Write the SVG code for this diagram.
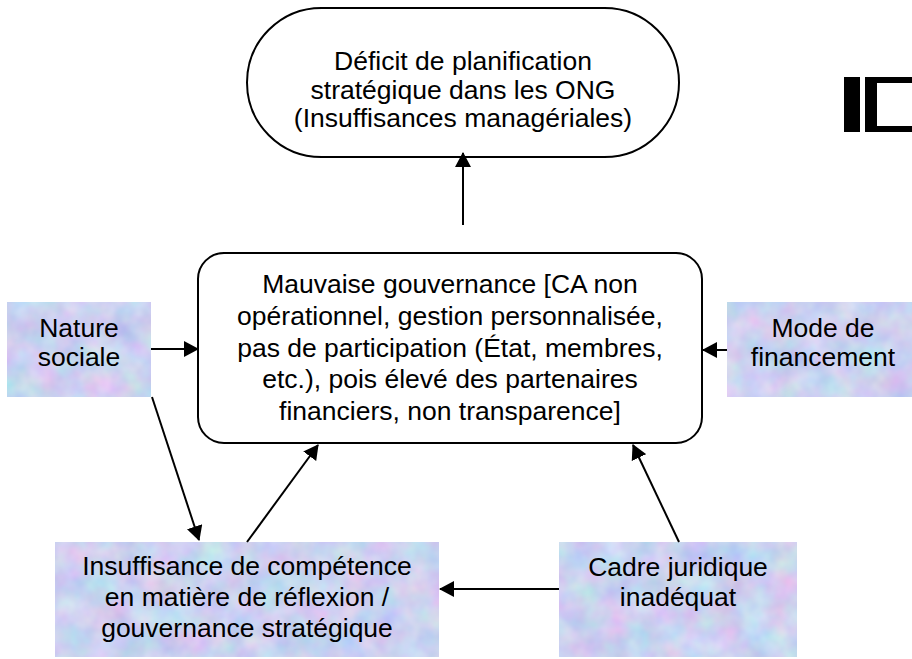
<svg xmlns="http://www.w3.org/2000/svg" width="912" height="659" viewBox="0 0 912 659">
<style>
  .t { font-family: "Liberation Sans", Arial, sans-serif; font-size: 26.5px; fill: #000; text-anchor: middle; }
  .shape { fill: #fff; stroke: #000; stroke-width: 2; }
  .tex { fill: #c8d2f2; filter: url(#texture); }
  .conn { stroke: #000; stroke-width: 2; fill: none; marker-end: url(#arrow); }
</style>
<defs>
  <filter id="texture" x="0" y="0" width="100%" height="100%" color-interpolation-filters="sRGB">
    <feTurbulence type="fractalNoise" baseFrequency="0.035" numOctaves="3" seed="7" result="n"/>
    <feColorMatrix in="n" type="matrix" values="0.28 0 0 0 0.655  0 0.24 0 0 0.70  0 0 0.1 0 0.89  0 0 0 0 1" result="c"/>
    <feComposite in="c" in2="SourceGraphic" operator="in"/>
  </filter>
  <marker id="arrow" viewBox="0 0 15 16" markerWidth="15" markerHeight="16" refX="14" refY="8" orient="auto" markerUnits="userSpaceOnUse">
    <path d="M0,0 L15,8 L0,16 z" fill="#000"/>
  </marker>
</defs>
<rect width="912" height="659" fill="#fff"/>

<g id="icon">
  <rect x="844" y="77" width="16" height="55" fill="#000"/>
  <rect x="865" y="77" width="12" height="55" fill="#000"/>
  <rect x="877" y="77" width="40" height="6" fill="#000"/>
  <rect x="877" y="126" width="40" height="6" fill="#000"/>
</g>

<g id="node-deficit">
  <rect class="shape" x="247" y="8" width="432" height="149" rx="74.5"/>
  <text class="t" x="463" y="70">Déficit de planification</text>
  <text class="t" x="463" y="98.5">stratégique dans les ONG</text>
  <text class="t" x="463" y="127">(Insuffisances managériales)</text>
</g>

<g id="node-gouvernance">
  <rect class="shape" x="198" y="253" width="504" height="190" rx="26"/>
  <text class="t" x="450" y="293">Mauvaise gouvernance [CA non</text>
  <text class="t" x="450" y="325">opérationnel, gestion personnalisée,</text>
  <text class="t" x="450" y="357">pas de participation (État, membres,</text>
  <text class="t" x="450" y="388">etc.), pois élevé des partenaires</text>
  <text class="t" x="450" y="420">financiers, non transparence]</text>
</g>

<g id="node-nature">
  <rect class="tex" x="7" y="302" width="144" height="95"/>
  <text class="t" x="79" y="337">Nature</text>
  <text class="t" x="79" y="366">sociale</text>
</g>

<g id="node-financement">
  <rect class="tex" x="727" y="302" width="192" height="95"/>
  <text class="t" x="823" y="337">Mode de</text>
  <text class="t" x="823" y="366">financement</text>
</g>

<g id="node-insuffisance">
  <rect class="tex" x="55" y="542" width="384" height="115"/>
  <text class="t" x="247" y="575">Insuffisance de compétence</text>
  <text class="t" x="247" y="606">en matière de réflexion /</text>
  <text class="t" x="247" y="637">gouvernance stratégique</text>
</g>

<g id="node-cadre">
  <rect class="tex" x="559" y="542" width="238" height="115"/>
  <text class="t" x="678" y="576">Cadre juridique</text>
  <text class="t" x="678" y="606">inadéquat</text>
</g>

<g id="connectors">
  <line class="conn" x1="463" y1="225" x2="463" y2="153"/>
  <line class="conn" x1="151" y1="349" x2="198" y2="349"/>
  <line class="conn" x1="727" y1="350" x2="703" y2="350"/>
  <line class="conn" x1="152" y1="397" x2="199" y2="540"/>
  <line class="conn" x1="247" y1="542" x2="318" y2="445"/>
  <line class="conn" x1="679" y1="542" x2="633" y2="445"/>
  <line class="conn" x1="559" y1="589" x2="440" y2="589"/>
</g>
</svg>
